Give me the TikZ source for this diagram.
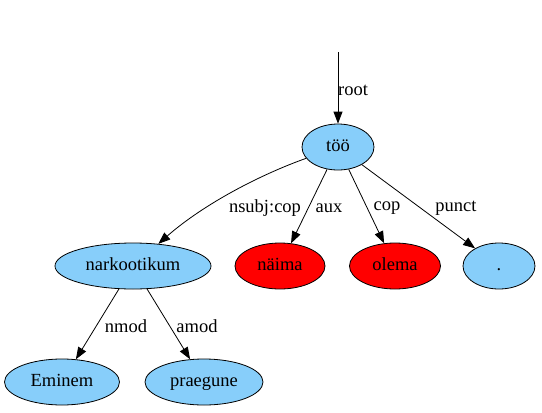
\documentclass[tikz,border=0pt]{standalone}
\usepackage{fontspec}
\setmainfont{Liberation Serif}
\usetikzlibrary{arrows.meta,shapes.geometric}
\definecolor{lsb}{HTML}{87CEFA}
\begin{document}
\begin{tikzpicture}[x=1pt,y=-1pt,
  tok/.style={draw=black,line width=0.8pt,ellipse,minimum height=46pt,inner sep=0pt,text height=12.5pt,text depth=4pt,font=\fontsize{18.5}{20}\selectfont},
  blue/.style={tok,fill=lsb},
  redn/.style={tok,fill=red},
  edge/.style={draw=black,line width=0.8pt,-{Triangle[length=12pt,width=9pt]}},
  lab/.style={font=\fontsize{18.5}{20}\selectfont,inner sep=0pt}]
\useasboundingbox (0,0) rectangle (542,413);
\node[blue,minimum width=72pt] (too) at (338,147) {töö};
\node[blue,minimum width=156pt] (nark) at (133,266) {narkootikum};
\node[redn,minimum width=90pt] (naima) at (280,266) {näima};
\node[redn,minimum width=91pt] (olema) at (395,266) {olema};
\node[blue,minimum width=72pt] (dot) at (499,266) {.};
\node[blue,minimum width=115pt] (emin) at (62,382) {Eminem};
\node[blue,minimum width=118pt] (praeg) at (204,382) {praegune};
\coordinate (top) at (338,52);
\draw[edge] (top) -- (too);
\node[lab] at (353,90) {root};
\draw[edge] (too) .. controls (262,174) and (205,203) .. (nark);
\node[lab] at (265,208) {nsubj:cop};
\draw[edge] (too) -- (naima);
\node[lab] at (329,208) {aux};
\draw[edge] (too) -- (olema);
\node[lab] at (387,208) {cop};
\draw[edge] (too) -- (dot);
\node[lab] at (456,208) {punct};
\draw[edge] (nark) -- (emin);
\node[lab] at (126,326) {nmod};
\draw[edge] (nark) -- (praeg);
\node[lab] at (197,326) {amod};
\end{tikzpicture}
\end{document}
